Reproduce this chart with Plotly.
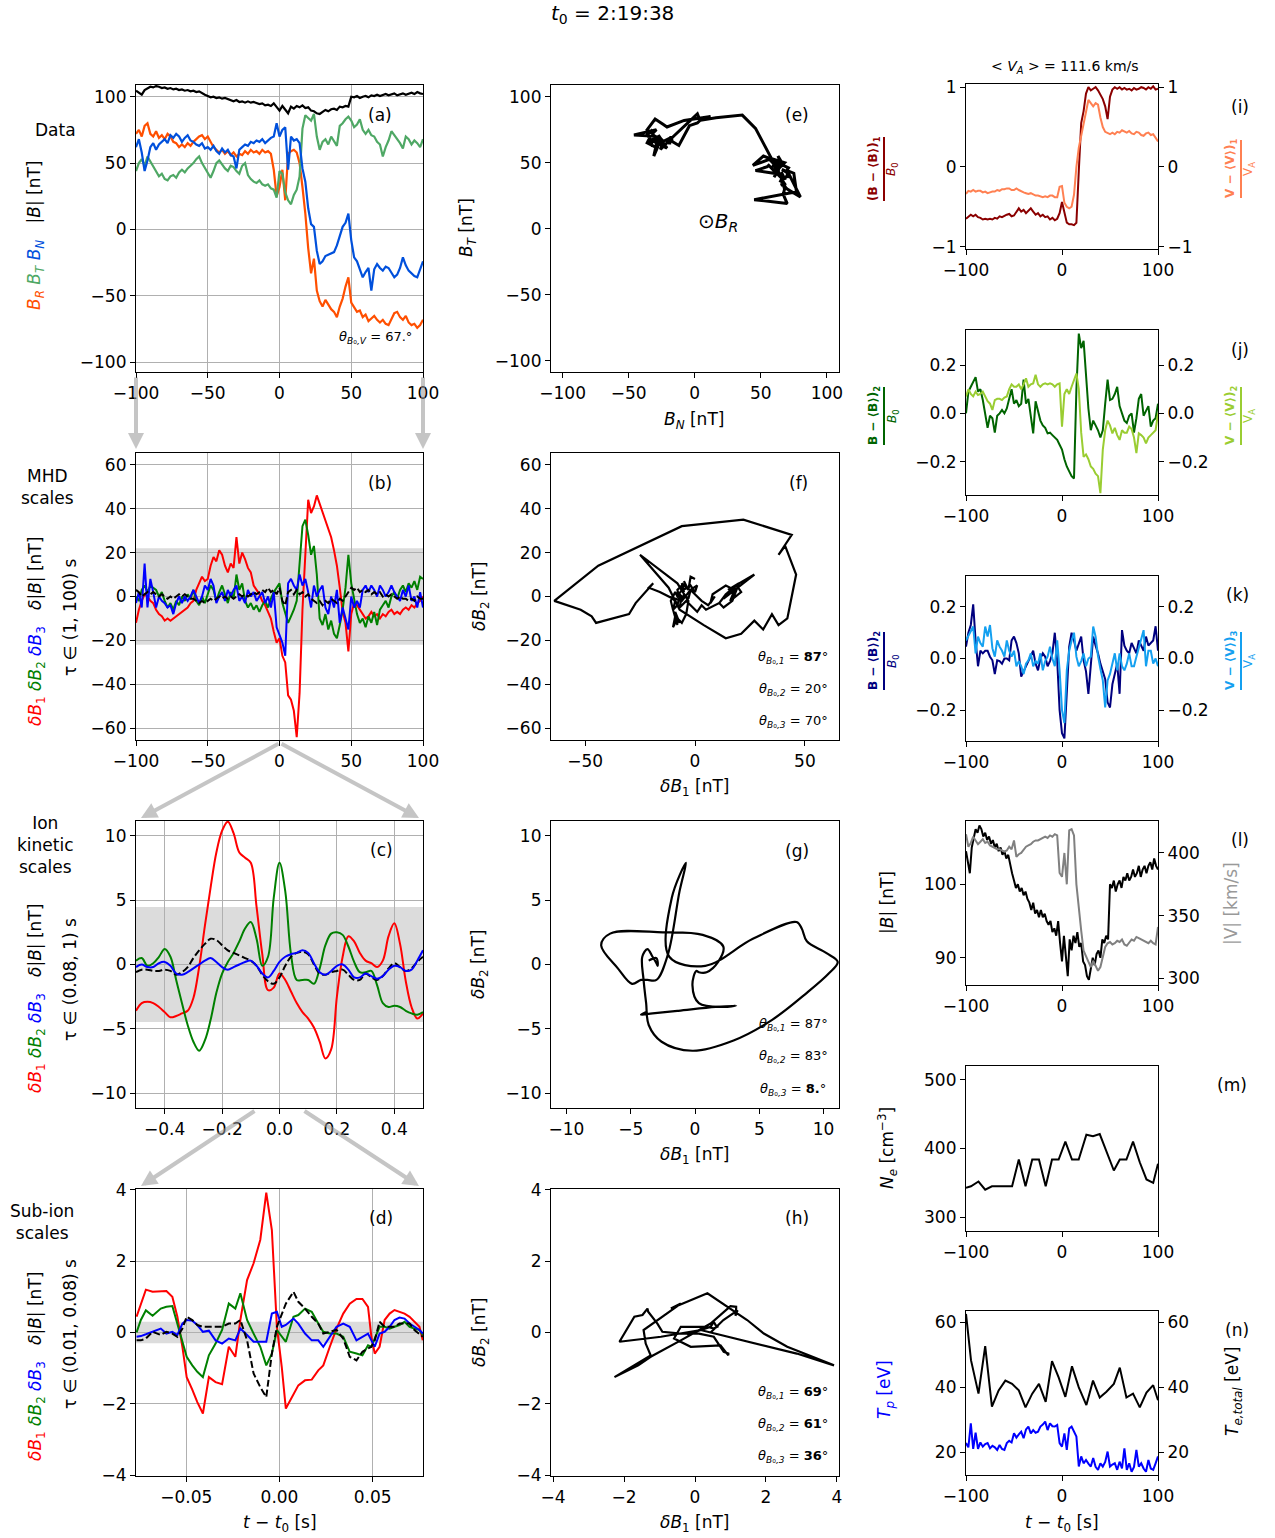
import plotly.graph_objects as go

W, H = 1275, 1538
FONT = "DejaVu Sans"
TICK = 17

# ---------------- sampling grids ----------------
t2 = list(range(-100, 101, 2))                      # 2 s cadence
t25 = [k * 2.5 for k in range(-40, 41)]             # 2.5 s cadence
t_c = [round(k * 0.02, 2) for k in range(-25, 26)]  # ion-kinetic window
t_d = [-0.0767, -0.0744, -0.0717, -0.0681, -0.0637, -0.0607, -0.0575, -0.0548, -0.0521, -0.0498,
       -0.0468, -0.0441, -0.0411, -0.0379, -0.0343, -0.0308, -0.0272, -0.0237, -0.0210, -0.0174,
       -0.0139, -0.0103, -0.0071, -0.0041, -0.0014, 0.0012, 0.0034, 0.0075, 0.0101, 0.0137,
       0.0173, 0.0208, 0.0235, 0.0270, 0.0306, 0.0342, 0.0377, 0.0413, 0.0445, 0.0475,
       0.0493, 0.0511, 0.0537, 0.0564, 0.0591, 0.0617, 0.0644, 0.0671, 0.0698, 0.0724,
       0.0751, 0.0769]
t_e = [-100, -94.8, -87, -80, -73, -66, -59, -52, -45, -38, -31, -24, -17, -10.4, -3.5,
       3.5, 10.4, 17.4, 25.4, 32.3, 39.3, 46.3, 54, 60.2, 67.1, 74, 81, 88, 95, 100]

# ---------------- (a) magnetic field, RTN ----------------
B_mag = [104.5, 103, 101.5, 105, 106.5, 107.5, 107, 108, 107.5, 106.5,
         107, 106, 106.5, 105.5, 106, 105, 105.5, 104.5, 105, 104,
         104.5, 103.5, 104, 102.5, 101.5, 100.5, 99.5, 100, 99, 99.5,
         98.5, 99, 98, 97.5, 96.5, 97.5, 96, 96.5, 95.5, 96.5,
         95.5, 96, 95, 94.5, 95, 93.5, 94, 93, 95, 92,
         89.5, 93, 90, 87.5, 92.5, 91, 93, 92, 93.5, 91.5,
         92, 89.5, 89, 87.5, 87, 88.5, 90, 89, 90.5, 91,
         90, 92.5, 92, 93, 92.5, 100, 99.5, 100.5, 99, 100,
         100.5, 99.5, 101, 100.5, 101.5, 100.5, 101, 102, 101, 101.5,
         102.5, 101, 102, 102.5, 101.5, 102.5, 103, 102, 103.5, 102.5,
         102]
B_R = [72, 75, 70, 78, 80, 72, 70, 74, 69, 71,
       68, 72, 70, 66, 65, 62, 64, 62, 65, 63,
       66, 68, 70, 71, 68, 70, 66, 62, 60, 58,
       60, 57, 59, 56, 58, 55, 57, 56, 59, 57,
       60, 58, 59, 57, 60, 58, 59, 57, 45, 25,
       32, 45, 22, 57, 59, 60, 58, 50, 32, 12,
       -14, -33, -22, -46, -54, -58, -53, -57, -60, -62,
       -66, -58, -52, -43, -36, -55, -59, -62, -61, -66,
       -64, -69, -67, -65, -68, -70, -68, -71, -72, -67,
       -63, -62, -66, -68, -65, -70, -72, -71, -74, -72,
       -68]
B_T = [44, 50, 53, 48, 55, 51, 47, 44, 40, 42,
       38, 37, 40, 41, 39, 43, 45, 43, 46, 48,
       50, 53, 55, 50, 46, 42, 39, 44, 50, 52,
       49, 46, 44, 48, 47, 44, 42, 48, 50, 41,
       38, 36, 35, 37, 34, 33, 34, 31, 30, 24,
       44, 42, 28, 22, 19, 26, 30, 40, 76, 86,
       84, 82, 87, 70, 60, 66, 68, 64, 70, 66,
       63, 78, 80, 83, 85, 82, 77, 79, 83, 75,
       72, 75, 71, 70, 66, 64, 55, 62, 67, 74,
       71, 68, 65, 61, 70, 68, 64, 67, 65, 62,
       68]
B_N = [62, 68, 58, 44, 52, 62, 65, 60, 64, 66,
       68, 65, 71, 69, 72, 70, 66, 69, 71, 67,
       66, 64, 63, 65, 61, 62, 60, 63, 59, 57,
       61, 58, 60, 56, 55, 46, 60, 62, 64, 63,
       66, 65, 67, 66, 68, 65, 67, 69, 70, 80,
       70, 75, 77, 45, 70, 67, 68, 65, 46, 36,
       16, 4, 2, -16, -26, -24, -20, -19, -18, -17,
       -12, -4, 2, 5, 12, -8, -21, -24, -30, -36,
       -32, -29, -46, -30, -26, -29, -31, -28, -29, -33,
       -36, -34, -29, -21, -27, -31, -33, -35, -36, -30,
       -24]

# ---------------- (b) MHD-scale fluctuations ----------------
dB1_mhd = [-12, -6, -2, 1, 0, -2, -3, -6, -8, -9,
           -11, -10, -11, -10, -9, -8, -7, -6, -5, -3,
           -2, 3, 6, 9, 7, 8, 14, 18, 16, 21,
           19, 14, 11, 15, 13, 27, 15, 20, 17, 13,
           11, 5, 3, 1, -2, -4, -7, -10, -16, -21,
           -19, -27, -30, -45, -47, -52, -64, -44, -6, 22,
           44, 38, 41, 46, 42, 38, 35, 31, 27, 21,
           14, 4, -7, -12, -25, -8, -3, -4, -6, -8,
           -10, -9, -7, -9, -8, -10, -8, -9, -7, -6,
           -8, -7, -8, -6, -5, -6, -4, -5, -3, -2,
           0]
dB2_mhd = [0, -2, 3, 5, 2, 5, 4, 3, 0, 2,
           -2, -5, -3, -6, -2, -4, 0, -2, 1, -1,
           3, -2, -4, 0, -3, 1, 5, 3, -2, 2,
           5, 1, -3, 2, -1, 10, 3, 6, -2, -5,
           -3, -6, -4, -7, -4, -2, -5, -1, 2, 4,
           6, -3, -8, -12, -9, -6, -2, 14, 32, 35,
           28, 19, 23, 10, -10, -13, -8, -15, -11, -17,
           -19, -13, -6, 4, 19, 6, -2, -8, -12, -10,
           -14, -9, -12, -7, -13, -6, -4, -2, -5, 0,
           2, -1, 3, 5, 2, 6, 4, 7, 3, 9,
           8]
dB3_mhd = [-3, 2, -5, 15, -5, 8, 2, -5, 0, -2,
           -3, -5, -4, -8, -3, 0, -3, 0, -2, 0,
           3, 0, -3, 0, 5, 3, 8, 5, -3, 0,
           2, -2, 3, 0, 3, 5, -2, 0, -3, 3,
           0, 2, -2, 0, 2, -3, 0, -5, 2, -14,
           -18, -21, -27, 6, 8, 5, 3, 10, 5, 8,
           2, -5, 5, 0, 3, 5, -5, -8, 0, -5,
           3, -12, -5, -10, -15, 0, -5, -2, -5, 3,
           5, 2, 5, 3, 0, 5, 3, 0, 2, 5,
           2, 0, -2, 3, 0, 5, -2, 0, -5, 2,
           -5]
dBm_mhd = [3, 2, 0, 1, 2, 1, 2, 1, 0, 1,
           0, -1, 0, -1, 0, 1, 0, 1, 0, -1,
           -1, -2, -3, -2, -3, -2, -1, -2, -1, 0,
           -1, 0, -1, 0, -1, 0, 1, 0, 1, 0,
           1, 2, 1, 2, 3, 2, 4, 2, 3, 1,
           4, -2, -4, 2, 3, 1, 3, 1, 2, 0,
           1, -1, -2, -3, -2, -4, -2, -3, -1, -2,
           -3, -1, -2, 0, 2, 4, 3, 4, 2, 3,
           2, 3, 1, 2, 1, 2, 0, 1, 0, 1,
           0, -1, 0, -1, -1, -2, -1, -2, 0, -1,
           -1]

# ---------------- (c) ion-kinetic-scale fluctuations ----------------
dB1_ion = [-3.6, -3.0, -2.9, -3.0, -3.3, -3.7, -4.1, -4.0, -3.8, -3.6,
           -2.6, -0.2, 3.0, 6.0, 8.7, 10.4, 11.1, 10.2, 8.7, 8.3,
           7.9, 4.5, 0.8, -2.0, -1.8, -0.7, -1.2, -2.1, -3.0, -3.7,
           -4.2, -4.9, -6.0, -7.3, -6.6, -2.5, 0.6, 2.2, 1.8, 0.9,
           0.3, 0.1, -0.2, 0.3, 2.2, 3.2, 1.6, -1.3, -3.3, -4.2,
           -3.8]
dB2_ion = [0.3, 0.5, -0.1, 0.1, 0.6, 1.2, 0.6, -1.2, -3.0, -4.7,
           -6.0, -6.7, -5.9, -4.3, -2.2, -0.7, 0.2, 0.9, 1.8, 2.8,
           3.3, 2.0, -0.1, 0.6, 5.2, 7.9, 5.7, 0.8, -1.2, -1.2,
           -1.2, -1.5, -0.3, 1.5, 2.4, 2.5, 2.3, 1.4, 0.2, -0.6,
           -0.6, -0.5, -1.6, -3.0, -3.3, -3.2, -3.3, -3.6, -3.8, -3.9,
           -3.7]
dB3_ion = [-0.2, 0.0, -0.2, -0.2, 0.1, 0.2, -0.1, -0.7, -0.8, -0.6,
           -0.3, 0.0, 0.3, 0.5, 0.2, -0.2, -0.4, -0.2, 0.0, 0.2,
           0.3, -0.1, -0.7, -1.0, -0.5, 0.2, 0.6, 0.8, 0.9, 1.1,
           0.9, 0.1, -0.6, -0.8, -0.5, -0.1, 0.0, -0.4, -1.0, -1.0,
           -0.7, -0.9, -1.1, -0.9, -0.4, -0.1, -0.2, -0.5, -0.4, 0.3,
           1.1]
dBm_ion = [-0.6, -0.4, -0.4, -0.5, -0.5, -0.4, -0.5, -0.8, -0.6, -0.2,
           0.5, 1.1, 1.6, 2.0, 1.9, 1.5, 1.1, 0.9, 0.7, 0.5,
           0.3, -0.1, -0.8, -1.3, -1.5, -1.0, -0.1, 0.6, 0.9, 1.0,
           0.8, 0.0, -0.7, -0.8, -0.6, -0.5, -0.4, -0.8, -1.2, -1.2,
           -0.7, -1.0, -1.2, -0.9, -0.3, 0.1, -0.2, -0.5, -0.3, 0.2,
           0.6]

# ---------------- (d) sub-ion-scale fluctuations ----------------
dB1_sub = [0.44, 0.8, 1.2, 1.14, 1.16, 1.16, 1.0, 0.44, -0.4, -1.25,
           -1.6, -1.95, -2.27, -1.25, -1.39, -1.45, -0.4, -0.68, 0.35, 1.47,
           1.94, 2.6, 3.92, 2.87, 0.16, -0.96, -2.13, -1.71, -1.48, -1.34,
           -1.32, -1.06, -0.92, -0.4, 0.11, 0.53, 0.81, 0.94, 0.94, 0.72,
           -0.12, -0.59, -0.4, 0.35, 0.53, 0.63, 0.58, 0.53, 0.44, 0.3,
           0.16, -0.22]
dB2_sub = [0.0, 0.35, 0.62, 0.47, 0.67, 0.72, 0.74, 0.25, -0.22, -0.68,
           -0.92, -1.1, -1.25, -0.64, -0.31, 0.07, 0.81, 0.67, 1.1, 0.35,
           -0.03, -0.4, -0.92, -0.59, 0.07, -0.12, -0.26, 0.44, 0.49, 0.67,
           0.58, 0.25, 0.02, -0.03, -0.03, -0.12, -0.54, -0.59, -0.64, -0.36,
           -0.4, -0.17, 0.16, 0.16, 0.11, 0.16, 0.21, 0.3, 0.16, 0.11,
           0.07, -0.07]
dB3_sub = [-0.12, -0.1, -0.05, 0.02, 0.11, -0.03, 0.02, -0.07, 0.25, 0.35,
           0.33, 0.21, 0.02, 0.05, -0.22, -0.31, -0.17, -0.22, 0.11, -0.07,
           -0.26, -0.26, -0.26, 0.53, 0.58, 0.16, 0.21, 0.39, 0.25, -0.03,
           -0.22, -0.22, -0.4, -0.12, 0.16, 0.25, 0.16, -0.22, -0.12, -0.03,
           -0.22, -0.4, -0.03, 0.02, 0.16, 0.35, 0.42, 0.39, 0.25, 0.16,
           0.07, -0.03]
dBm_sub = [-0.22, -0.22, -0.17, 0.02, -0.07, 0.02, -0.03, -0.12, 0.11, 0.44,
           0.35, 0.21, 0.16, 0.16, 0.16, 0.16, 0.25, 0.25, 0.35, -0.22,
           -1.15, -1.53, -1.81, -0.59, 0.16, 0.53, 0.81, 1.14, 0.86, 0.67,
           0.44, 0.25, -0.03, 0.02, 0.07, -0.17, -0.68, -0.78, -0.54, -0.45,
           -0.4, -0.22, 0.3, 0.16, 0.16, 0.16, 0.25, 0.25, 0.25, 0.07,
           -0.03, -0.12]

# ---------------- (i)-(k) normalised B and V components ----------------
b1_norm = [-0.65, -0.62, -0.60, -0.62, -0.60, -0.63, -0.64, -0.66, -0.65, -0.66,
           -0.65, -0.66, -0.64, -0.65, -0.62, -0.63, -0.61, -0.60, -0.59, -0.62,
           -0.61, -0.56, -0.52, -0.56, -0.54, -0.58, -0.55, -0.52, -0.56, -0.60,
           -0.58, -0.62, -0.60, -0.63, -0.62, -0.66, -0.64, -0.67, -0.65, -0.58,
           -0.44, -0.58, -0.70, -0.72, -0.72, -0.73, -0.70, -0.05, 0.55, 0.70,
           0.92, 1.00, 0.96, 0.98, 1.00, 0.96, 0.90, 0.85, 0.76, 0.60,
           0.88, 0.97, 1.00, 0.98, 1.00, 0.97, 0.99, 0.97, 0.98, 0.96,
           0.99, 0.97, 0.98, 1.00, 0.99, 0.97, 1.00, 0.98, 1.01, 0.97,
           0.98]
v1_norm = [-0.34, -0.30, -0.31, -0.29, -0.31, -0.30, -0.30, -0.32, -0.31, -0.33,
           -0.32, -0.31, -0.31, -0.29, -0.30, -0.28, -0.28, -0.27, -0.27, -0.29,
           -0.29, -0.27, -0.29, -0.31, -0.32, -0.33, -0.34, -0.33, -0.35, -0.36,
           -0.36, -0.37, -0.38, -0.37, -0.38, -0.36, -0.36, -0.38, -0.38, -0.25,
           -0.24, -0.45, -0.50, -0.52, -0.50, -0.35, 0.00, 0.24, 0.40, 0.55,
           0.68, 0.84, 0.80, 0.76, 0.80, 0.78, 0.62, 0.50, 0.44, 0.42,
           0.41, 0.43, 0.41, 0.44, 0.43, 0.46, 0.45, 0.43, 0.45, 0.42,
           0.41, 0.44, 0.43, 0.40, 0.39, 0.42, 0.43, 0.40, 0.41, 0.37,
           0.32]
b2_norm = [0.00, 0.09, 0.11, 0.13, 0.15, 0.09, 0.10, 0.055, 0.00, -0.06,
           -0.01, -0.02, -0.08, -0.01, 0.00, 0.014, 0.00, 0.02, 0.06, 0.10,
           0.04, 0.055, 0.03, 0.04, 0.14, 0.04, 0.06, -0.014, -0.083, 0.05,
           0.014, -0.03, -0.05, -0.06, -0.083, -0.08, -0.09, -0.10, -0.11, -0.13,
           -0.15, -0.19, -0.22, -0.24, -0.26, -0.27, 0.10, 0.33, 0.27, 0.30,
           0.15, 0.02, -0.07, -0.03, -0.05, -0.07, -0.10, -0.07, 0.04, 0.14,
           0.055, 0.06, 0.08, 0.11, 0.03, 0.00, -0.03, -0.04, -0.01, 0.00,
           -0.08, -0.02, 0.06, 0.08, -0.01, 0.01, 0.03, -0.055, -0.03, -0.02,
           0.04]
v2_norm = [0.07, 0.10, 0.08, 0.07, 0.09, 0.076, 0.08, 0.09, 0.07, 0.05,
           0.04, 0.014, 0.055, 0.06, 0.06, 0.055, 0.065, 0.07, 0.10, 0.12,
           0.11, 0.11, 0.12, 0.10, 0.12, 0.145, 0.11, 0.12, 0.124, 0.16,
           0.12, 0.11, 0.12, 0.124, 0.12, 0.124, 0.12, 0.11, 0.12, 0.124,
           -0.055, 0.08, 0.10, 0.08, 0.11, 0.14, 0.165, 0.10, -0.08, -0.18,
           -0.17, -0.19, -0.22, -0.23, -0.25, -0.26, -0.33, -0.15, -0.07, -0.03,
           -0.05, -0.083, -0.06, -0.09, -0.11, -0.07, -0.08, -0.08, -0.055, -0.065,
           -0.10, -0.165, -0.083, -0.09, -0.10, -0.124, -0.10, -0.09, -0.08, -0.07,
           0.00]
b3_norm = [0.046, 0.10, 0.13, 0.21, 0.07, -0.03, 0.03, 0.02, 0.03, 0.03,
           0.007, -0.007, -0.06, -0.007, -0.01, -0.02, 0.00, 0.00, -0.007, 0.07,
           0.085, 0.06, 0.02, -0.07, -0.05, -0.03, -0.007, 0.01, 0.03, -0.02,
           -0.046, 0.00, 0.02, 0.007, -0.03, -0.01, 0.02, 0.10, -0.007, -0.20,
           -0.29, -0.31, -0.11, 0.046, 0.10, 0.07, 0.03, 0.06, 0.085, -0.007,
           -0.05, -0.137, -0.02, 0.085, 0.05, 0.02, -0.02, -0.05, -0.08, -0.17,
           -0.19, -0.10, -0.06, -0.02, -0.137, 0.11, 0.05, 0.03, 0.02, 0.06,
           0.04, 0.02, 0.07, 0.05, 0.03, 0.085, 0.05, 0.06, 0.07, 0.125,
           0.03]
v3_norm = [0.07, 0.09, 0.11, 0.124, 0.02, 0.085, 0.06, 0.046, 0.124, 0.085,
           0.13, 0.04, 0.007, 0.07, 0.046, 0.03, 0.007, 0.07, 0.03, 0.007,
           0.03, -0.03, -0.01, -0.03, -0.06, -0.02, -0.007, 0.02, -0.03, -0.01,
           -0.02, 0.02, -0.046, -0.01, 0.007, 0.046, 0.00, -0.03, 0.07, -0.046,
           -0.20, -0.25, -0.046, 0.03, 0.07, 0.10, 0.007, -0.03, -0.01, 0.02,
           -0.03, 0.00, 0.007, 0.124, 0.085, 0.01, -0.04, -0.085, -0.19, -0.085,
           -0.06, -0.02, 0.02, -0.046, 0.02, -0.03, -0.046, -0.02, 0.02, -0.03,
           -0.03, 0.007, 0.04, 0.07, 0.11, -0.03, 0.03, 0.03, -0.02, 0.00,
           -0.03]

# ---------------- (l)-(n) plasma moments ----------------
V_mag = [415, 405, 408, 413, 410, 407, 409, 411, 408, 409,
         406, 405, 404, 403, 403, 402, 401, 402, 405, 403,
         410, 397, 399, 400, 403, 405, 406, 407, 409, 410,
         410, 411, 412, 413, 412, 414, 413, 415, 414, 384,
         381, 400, 375, 418, 419, 414, 375, 355, 338, 322,
         318, 313, 309, 314, 310, 306, 309, 318, 325, 328,
         329, 327, 328, 330, 329, 331, 327, 326, 329, 331,
         330, 333, 332, 331, 330, 329, 328, 330, 328, 327,
         341]
N_e = [343, 345, 352, 340, 345, 345, 345, 345, 384, 345,
       384, 384, 345, 384, 384, 410, 384, 384, 420, 418,
       421, 395, 368, 384, 384, 410, 380, 355, 350, 378]
T_p = [22.8, 21.5, 28.9, 21.0, 26.0, 21.0, 23.0, 21.7, 22.5, 22.8,
       21.2, 22.0, 21.5, 20.7, 22.2, 21.0, 20.7, 22.8, 23.5, 23.0,
       25.8, 24.5, 25.5, 26.3, 24.3, 27.0, 27.9, 25.8, 26.8, 26.0,
       26.3, 27.9, 28.5, 29.4, 26.8, 28.9, 28.0, 27.9, 28.4, 22.8,
       21.7, 25.8, 20.7, 27.3, 27.9, 26.3, 24.8, 15.6, 18.7, 16.6,
       17.6, 16.5, 15.6, 18.2, 15.5, 14.6, 16.6, 15.6, 17.0, 20.2,
       15.6, 16.2, 16.6, 14.6, 17.1, 15.0, 21.2, 14.6, 16.6, 14.0,
       15.5, 20.7, 15.6, 16.6, 15.0, 14.0, 17.6, 15.0, 14.6, 16.6,
       18.7]
T_e = [62.5, 48.3, 38, 52.6, 34, 39, 42, 41, 39, 33.8,
       38, 41, 35.5, 48, 43, 37, 46.4, 40, 34.5, 42,
       36.8, 38.6, 41, 46, 36.8, 38, 33.8, 38.3, 40.6, 36]

# ---------------- figure geometry (pixels) ----------------
BOX = {
    1: (136, 423, 85, 372), 2: (136, 423, 453, 740), 3: (136, 423, 821, 1108), 4: (136, 423, 1189, 1476),
    5: (551, 839, 85, 372), 6: (551, 839, 453, 740), 7: (551, 839, 821, 1108), 8: (551, 839, 1189, 1476),
    9: (966, 1158, 84, 249), 10: (966, 1158, 330, 495), 11: (966, 1158, 576, 741),
    12: (966, 1158, 821, 985), 13: (966, 1158, 1066, 1231), 14: (966, 1158, 1311, 1475),
}


def fmt_ticks(vals, fmt):
    return [fmt.format(v).replace("-", "\u2212") for v in vals]


def axis(dom, rng, vals, fmt, anchor, grid=False, mirror=True):
    return dict(domain=dom, range=rng, anchor=anchor, tickmode="array", tickvals=vals,
                ticktext=fmt_ticks(vals, fmt), ticks="outside", ticklen=5, tickwidth=1.2,
                tickcolor="black", showline=True, linecolor="black", linewidth=1.2,
                mirror=mirror, showgrid=grid, gridcolor="#b0b0b0", gridwidth=1.2,
                zeroline=False, automargin=False,
                tickfont=dict(family=FONT, size=TICK, color="black"))


def xd(n):
    b = BOX[n]
    return [b[0] / W, b[1] / W]


def yd(n):
    b = BOX[n]
    return [1 - b[3] / H, 1 - b[2] / H]


def nm(prefix, n):
    return prefix if n == 1 else prefix + str(n)


layout = {}
XT = [-100, -50, 0, 50, 100]
# (a)-(d) time series with grid
layout["xaxis"] = axis(xd(1), [-100, 100], XT, "{:d}", "y", grid=True)
layout["yaxis"] = axis(yd(1), [-107.3, 108.8], XT, "{:d}", "x", grid=True)
layout["xaxis2"] = axis(xd(2), [-100, 100], XT, "{:d}", "y2", grid=True)
layout["yaxis2"] = axis(yd(2), [-65.3, 65.3], [-60, -40, -20, 0, 20, 40, 60], "{:d}", "x2", grid=True)
layout["xaxis3"] = axis(xd(3), [-0.5, 0.5], [-0.4, -0.2, 0.0, 0.2, 0.4], "{:.1f}", "y3", grid=True)
layout["yaxis3"] = axis(yd(3), [-11.15, 11.15], [-10, -5, 0, 5, 10], "{:d}", "x3", grid=True)
layout["xaxis4"] = axis(xd(4), [-0.077, 0.077], [-0.05, 0.0, 0.05], "{:.2f}", "y4", grid=True)
layout["yaxis4"] = axis(yd(4), [-4.02, 4.02], [-4, -2, 0, 2, 4], "{:d}", "x4", grid=True)
# (e)-(h) hodograms
layout["xaxis5"] = axis(xd(5), [-108.8, 109.2], XT, "{:d}", "y5")
layout["yaxis5"] = axis(yd(5), [-108.5, 108.8], XT, "{:d}", "x5")
layout["xaxis6"] = axis(xd(6), [-65.5, 65.5], [-50, 0, 50], "{:d}", "y6")
layout["yaxis6"] = axis(yd(6), [-65.3, 65.3], [-60, -40, -20, 0, 20, 40, 60], "{:d}", "x6")
layout["xaxis7"] = axis(xd(7), [-11.2, 11.2], [-10, -5, 0, 5, 10], "{:d}", "y7")
layout["yaxis7"] = axis(yd(7), [-11.15, 11.15], [-10, -5, 0, 5, 10], "{:d}", "x7")
layout["xaxis8"] = axis(xd(8), [-4.06, 4.06], [-4, -2, 0, 2, 4], "{:d}", "y8")
layout["yaxis8"] = axis(yd(8), [-4.02, 4.02], [-4, -2, 0, 2, 4], "{:d}", "x8")
# (i)-(n) right column
XR = [-100, 0, 100]
right_specs = {
    9: ([-1.03, 1.04], [-1, 0, 1], "{:d}"),
    10: ([-0.338, 0.345], [-0.2, 0.0, 0.2], "{:.1f}"),
    11: ([-0.32, 0.32], [-0.2, 0.0, 0.2], "{:.1f}"),
    12: ([86.3, 108.6], [90, 100], "{:d}"),
    13: ([280, 520], [300, 400, 500], "{:d}"),
    14: ([13.0, 63.4], [20, 40, 60], "{:d}"),
}
for n, (rng, vals, fmt) in right_specs.items():
    layout[nm("xaxis", n)] = axis(xd(n), [-100, 100], XR, "{:d}", nm("y", n))
    layout[nm("yaxis", n)] = axis(yd(n), rng, vals, fmt, nm("x", n))

twins = {
    15: (9, [-1.03, 1.04], [-1, 0, 1], "{:d}"),
    16: (10, [-0.338, 0.345], [-0.2, 0.0, 0.2], "{:.1f}"),
    17: (11, [-0.32, 0.32], [-0.2, 0.0, 0.2], "{:.1f}"),
    18: (12, [294.7, 425.5], [300, 350, 400], "{:d}"),
    19: (14, [13.0, 63.4], [20, 40, 60], "{:d}"),
}
for n, (base, rng, vals, fmt) in twins.items():
    ax = axis(yd(base), rng, vals, fmt, nm("x", base), mirror=False)
    ax.update(overlaying=nm("y", base), side="right", showline=False)
    layout[nm("yaxis", n)] = ax

fig = go.Figure()


def line(x, y, xa, ya, color, width=2.0, dash=None, shape="linear"):
    fig.add_trace(go.Scatter(x=x, y=y, mode="lines", xaxis=nm("x", xa), yaxis=nm("y", ya),
                             line=dict(color=color, width=width, dash=dash, shape=shape),
                             showlegend=False, hoverinfo="skip"))


C_R, C_T, C_N = "#ff4f00", "#4fa865", "#0050dc"
DASH = "7px,3px"

# (a)
line(t2, B_R, 1, 1, C_R, width=2.2)
line(t2, B_T, 1, 1, C_T, width=2.2)
line(t2, B_N, 1, 1, C_N, width=2.2)
line(t2, B_mag, 1, 1, "black", width=2.2)
# (b)
line(t2, dB1_mhd, 2, 2, "red")
line(t2, dB2_mhd, 2, 2, "green")
line(t2, dB3_mhd, 2, 2, "blue")
line(t2, dBm_mhd, 2, 2, "black", dash=DASH)
# (c)
line(t_c, dB1_ion, 3, 3, "red", shape="spline")
line(t_c, dB2_ion, 3, 3, "green", shape="spline")
line(t_c, dBm_ion, 3, 3, "black", dash=DASH, shape="spline")
line(t_c, dB3_ion, 3, 3, "blue", shape="spline")
# (d)
line(t_d, dB1_sub, 4, 4, "red")
line(t_d, dB2_sub, 4, 4, "green")
line(t_d, dB3_sub, 4, 4, "blue")
line(t_d, dBm_sub, 4, 4, "black", dash=DASH)
# (e)-(h) hodograms
line(B_N, B_T, 5, 5, "black", width=3.0)
line(dB1_mhd, dB2_mhd, 6, 6, "black", width=2.2)
line(dB1_ion, dB2_ion, 7, 7, "black", width=2.2, shape="spline")
line(dB1_sub, dB2_sub, 8, 8, "black", width=2.2)
# (i)-(k)
line(t25, b1_norm, 9, 9, "#8b0000")
line(t25, v1_norm, 9, 15, "#ff8052")
line(t25, b2_norm, 10, 10, "#006400")
line(t25, v2_norm, 10, 16, "#9acd32")
line(t25, b3_norm, 11, 11, "#00007f")
line(t25, v3_norm, 11, 17, "#14a0f0")
# (l)-(n)
line(t2, B_mag, 12, 12, "black")
line(t25, V_mag, 12, 18, "#808080")
line(t_e, N_e, 13, 13, "black")
line(t25, T_p, 14, 14, "blue")
line(t_e, T_e, 14, 19, "black")

# shaded bands of typical fluctuation amplitude
shapes = []
for n, half in [(2, 22.0), (3, 4.47), (4, 0.30)]:
    shapes.append(dict(type="rect", xref=nm("x", n) + " domain", yref=nm("y", n), x0=0, x1=1,
                       y0=-half, y1=half, fillcolor="#dcdcdc", line=dict(width=0), layer="below"))

annotations = []


def ann(x, y, text, size=TICK, color="black", angle=0, xanchor="center", yanchor="middle"):
    annotations.append(dict(x=x / W, y=1 - y / H, xref="paper", yref="paper", text=text,
                            showarrow=False, textangle=angle, xanchor=xanchor, yanchor=yanchor,
                            font=dict(family=FONT, size=size, color=color)))


def arrow(x0, y0, x1, y1):
    annotations.append(dict(x=x1 / W, y=1 - y1 / H, xref="paper", yref="paper", text="",
                            ax=x0 - x1, ay=y0 - y1, axref="pixel", ayref="pixel", showarrow=True,
                            arrowhead=2, arrowsize=0.8, arrowwidth=4,
                            arrowcolor="rgba(150,150,150,0.55)"))


def frac(xn, xbar, xden, yc, half, num, den, color):
    ann(xn, yc, "<b>" + num + "</b>", size=12, color=color, angle=-90)
    ann(xden, yc, den, size=12, color=color, angle=-90)
    shapes.append(dict(type="line", xref="paper", yref="paper", x0=xbar / W, x1=xbar / W,
                       y0=1 - (yc + half) / H, y1=1 - (yc - half) / H,
                       line=dict(color=color, width=2)))


# zoom arrows between scales
arrow(136, 376, 136, 449)
arrow(423, 376, 423, 449)
arrow(280, 743, 141, 818)
arrow(280, 743, 419, 818)
arrow(256, 1110, 141, 1186)
arrow(303, 1110, 419, 1186)

# title
ann(612, 14, "<i>t</i><sub>0</sub> = 2:19:38", size=20)

# scale headings
ann(55, 130, "Data")
ann(48, 487, "MHD<br>scales")
ann(45, 845, "Ion<br>kinetic<br>scales")
ann(42, 1222, "Sub-ion<br>scales")


def sp(color, txt):
    return '<span style="color:%s">%s</span>' % (color, txt)


# left y labels
ann(35, 236, sp(C_R, "<i>B</i><sub><i>R</i></sub>") + " " + sp(C_T, "<i>B</i><sub><i>T</i></sub>") + " "
    + sp(C_N, "<i>B</i><sub><i>N</i></sub>") + "   |<i>B</i>| [nT]", angle=-90)
dlab = (sp("red", "<i>δB</i><sub>1</sub>") + " " + sp("green", "<i>δB</i><sub>2</sub>") + " "
        + sp("blue", "<i>δB</i><sub>3</sub>") + "   <i>δ</i>|<i>B</i>| [nT]")
ann(36, 632, dlab, angle=-90)
ann(70, 617, "τ ∈ (1, 100) s", angle=-90)
ann(36, 999, dlab, angle=-90)
ann(70, 980, "τ ∈ (0.08, 1) s", angle=-90)
ann(36, 1367, dlab, angle=-90)
ann(70, 1334, "τ ∈ (0.01, 0.08) s", angle=-90)

# axis titles
TT = "<i>t</i> − <i>t</i><sub>0</sub> [s]"
ann(280, 1523, TT)
ann(1062, 1523, TT)
ann(694, 420, "<i>B</i><sub><i>N</i></sub> [nT]")
ann(467, 228, "<i>B</i><sub><i>T</i></sub> [nT]", angle=-90)
for yx, yy in [(788, 597), (1155, 965), (1523, 1333)]:
    ann(694, yx, "<i>δB</i><sub>1</sub> [nT]")
    ann(480, yy, "<i>δB</i><sub>2</sub> [nT]", angle=-90)
ann(887, 903, "|<i>B</i>| [nT]", angle=-90)
ann(1231, 904, "|V| [km/s]", color="#999999", angle=-90)
ann(887, 1148, "<i>N</i><sub><i>e</i></sub> [cm<sup>−3</sup>]", angle=-90)
ann(885, 1390, "<i>T</i><sub><i>p</i></sub> [eV]", color="blue", angle=-90)
ann(1233, 1392, "<i>T</i><sub><i>e,total</i></sub> [eV]", angle=-90)

# panel tags
for txt, x, y in [("(a)", 380, 115), ("(b)", 380, 483), ("(c)", 381, 850), ("(d)", 381, 1218),
                  ("(e)", 797, 115), ("(f)", 798, 483), ("(g)", 797, 851), ("(h)", 797, 1218),
                  ("(i)", 1240, 107), ("(j)", 1240, 350), ("(k)", 1237, 595), ("(l)", 1240, 840),
                  ("(m)", 1232, 1085), ("(n)", 1237, 1330)]:
    ann(x, y, txt)

# angle annotations
TH = "<i>θ</i><sub><i>B</i>₀<i>,%s</i></sub> = %s°"
ann(414, 338, "<i>θ</i><sub><i>B</i>₀<i>,V</i></sub> = 67.°", size=13, xanchor="right")
for (yy, idx, val) in [(657, "1", "<b>87</b>"), (689, "2", "20"), (721, "3", "70"),
                       (1024, "1", "87"), (1056, "2", "83"), (1089, "3", "<b>8.</b>"),
                       (1392, "1", "<b>69</b>"), (1424, "2", "<b>61</b>"), (1456, "3", "<b>36</b>")]:
    ann(793, yy, TH % (idx, val), size=13)

ann(718, 222, "⊙<i>B</i><sub><i>R</i></sub>", size=20)
ann(1065, 67, "< <i>V</i><sub><i>A</i></sub> > = 111.6 km/s", size=14)

# fraction-style labels of the normalised components
frac(874, 884, 892, 169, 32, "(B − ⟨B⟩)<sub>1</sub>", "<i>B</i><sub>0</sub>", "#8b0000")
frac(1231, 1241, 1249, 169, 29, "V − ⟨V⟩)<sub>1</sub>", "V<sub>A</sub>", "#ff8052")
frac(874, 884, 893, 416, 29, "B − ⟨B⟩)<sub>2</sub>", "<i>B</i><sub>0</sub>", "#006400")
frac(1231, 1241, 1249, 416, 29, "V − ⟨V⟩)<sub>2</sub>", "V<sub>A</sub>", "#9acd32")
frac(874, 884, 893, 661, 29, "B − ⟨B⟩)<sub>2</sub>", "<i>B</i><sub>0</sub>", "#00007f")
frac(1231, 1241, 1249, 661, 29, "V − ⟨V⟩)<sub>3</sub>", "V<sub>A</sub>", "#14a0f0")

fig.update_layout(width=W, height=H,
                  margin=dict(l=0, r=0, t=0, b=0, pad=0, autoexpand=False),
                  paper_bgcolor="white", plot_bgcolor="white",
                  font=dict(family=FONT, size=TICK, color="black"),
                  showlegend=False, shapes=shapes, annotations=annotations, **layout)

fig.write_html("out.html")
